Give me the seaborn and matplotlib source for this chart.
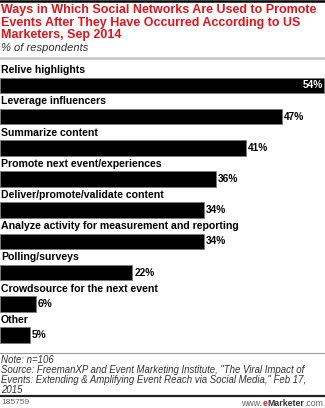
import matplotlib
matplotlib.use("Agg")
import matplotlib.pyplot as plt
import seaborn as sns
import pandas as pd
from matplotlib.lines import Line2D

# Survey data
categories = [
    "Relive highlights",
    "Leverage influencers",
    "Summarize content",
    "Promote next event/experiences",
    "Deliver/promote/validate content",
    "Analyze activity for measurement and reporting",
    "Polling/surveys",
    "Crowdsource for the next event",
    "Other",
]
values = [54, 47, 41, 36, 34, 34, 22, 6, 5]
value_labels = ["54%", "47%", "41%", "36%", "34%", "34%", "22%", "6%", "5%"]

title_text = ("Ways in Which Social Networks Are Used to Promote\n"
              "Events After They Have Occurred According to US\n"
              "Marketers, Sep 2014")
subtitle_text = "% of respondents"
note_text = ("Note: n=106\n"
             "Source: FreemanXP and Event Marketing Institute, \"The Viral Impact of\n"
             "Events: Extending & Amplifying Event Reach via Social Media,\" Feb 17,\n"
             "2015")
chart_id = "185759"

df = pd.DataFrame({"category": categories, "value": values})

sns.set_theme(style="white")
plt.rcParams["font.family"] = ["Liberation Sans", "DejaVu Sans"]

W, H = 325, 408
fig = plt.figure(figsize=(W / 100, H / 100), dpi=100)
RED = "#e3131b"


def fy(px):
    return 1 - px / H


def fx(px):
    return px / W


# Bar panel
top_px, bot_px = 69.9, 350.6
ax = fig.add_axes([0, fy(bot_px), 1, fy(top_px) - fy(bot_px)])
sns.barplot(data=df, x="value", y="category", orient="h", color="black",
            width=0.5, edgecolor="#7a7a7a", linewidth=0.6, saturation=1, ax=ax)
ax.set_xlim(0, 54.15)
ax.set_ylim(len(categories) - 0.5, -0.5)
ax.axis("off")

for i, (cat, v, lab) in enumerate(zip(categories, values, value_labels)):
    ax.text(0.15, i - 0.33, cat, ha="left", va="bottom", fontsize=7.6,
            fontweight="bold", color="black")
    if i == 0:
        ax.text(v - 0.25, i, lab, ha="right", va="center", fontsize=7.3,
                fontweight="bold", color="white")
    else:
        ax.text(v + 0.35, i, lab, ha="left", va="center", fontsize=7.3,
                fontweight="bold", color="black")

# Header
fig.add_artist(Line2D([0, 1], [fy(1), fy(1)], color="black", lw=1.8))
fig.text(fx(1), fy(4), title_text, ha="left", va="top", fontsize=9.0,
         fontweight="bold", color=RED, linespacing=1.08)
fig.text(fx(1), fy(43), subtitle_text, ha="left", va="top", fontsize=8,
         style="italic", color="#333333")
fig.add_artist(Line2D([0, 1], [fy(58), fy(58)], color="#c4c4c4", lw=1.8))

# Footer
fig.add_artist(Line2D([0, 1], [fy(352.5), fy(352.5)], color="#9a9a9a", lw=0.8))
fig.text(fx(1), fy(355), note_text, ha="left", va="top", fontsize=6.9,
         style="italic", color="#333333", linespacing=1.0)
fig.add_artist(Line2D([0, 1], [fy(396), fy(396)], color="#222222", lw=1.6))
fig.text(fx(1), fy(403), chart_id, ha="left", va="center", fontsize=6,
         color="#666666")

# Site mark, assembled right to left
renderer = fig.canvas.get_renderer()
x_right = fx(323)
pieces = [(".com", "#666666", "normal"), ("Marketer", "#333333", "bold"),
          ("e", RED, "bold"), ("www.", "#666666", "normal")]
for txt, col, wt in pieces:
    t = fig.text(x_right, fy(403), txt, ha="right", va="center", fontsize=6.3,
                 color=col, fontweight=wt)
    bb = t.get_window_extent(renderer=renderer)
    x_right = bb.x0 / fig.bbox.width

fig.savefig("out.png", dpi=100)
